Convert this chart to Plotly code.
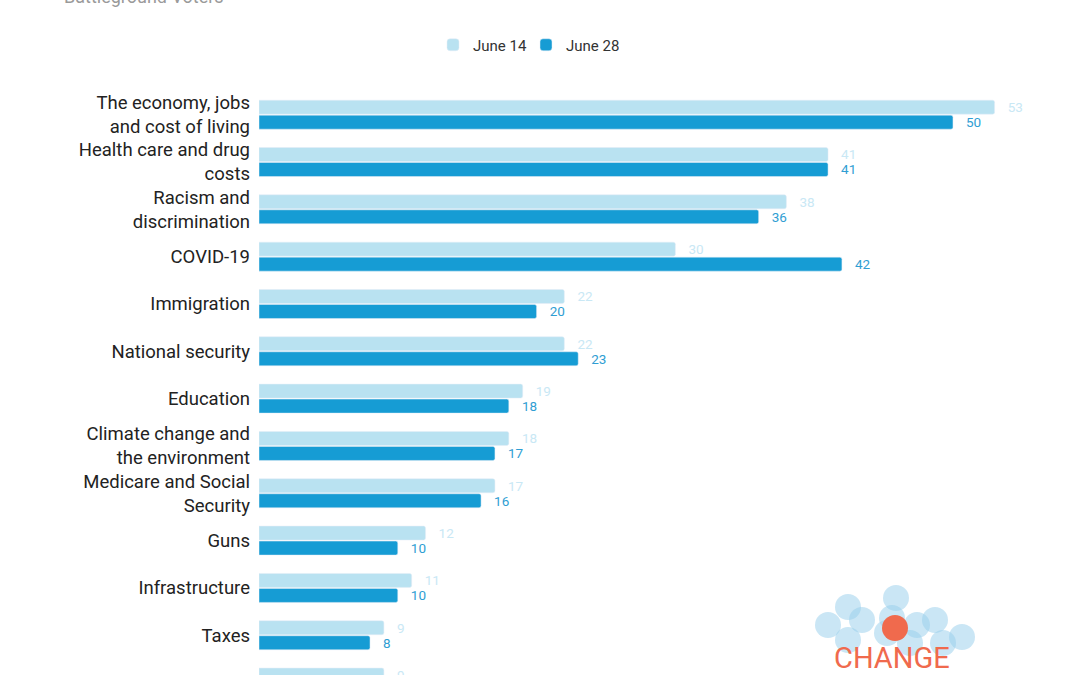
import plotly.graph_objects as go

# data
categories = [
    "The economy, jobs<br>and cost of living",
    "Health care and drug<br>costs",
    "Racism and<br>discrimination",
    "COVID-19",
    "Immigration",
    "National security",
    "Education",
    "Climate change and<br>the environment",
    "Medicare and Social<br>Security",
    "Guns",
    "Infrastructure",
    "Taxes",
    "Foreign policy",
]
june_14 = [53, 41, 38, 30, 22, 22, 19, 18, 17, 12, 11, 9, 9]
june_28 = [50, 41, 36, 42, 20, 23, 18, 17, 16, 10, 10, 8, 8]

LIGHT = "#b9e2f1"
DARK = "#169cd4"
PAD = "\u00a0" * 3

W, H = 1080, 675
L, R, T, B = 259, 16, 91, 0


def px_x(x):
    return (x - L) / (W - L - R)


def px_y(y):
    return 1 - (y - T) / (H - T - B)


fig = go.Figure()
fig.add_trace(go.Bar(
    name="June 14", y=categories, x=june_14, orientation="h",
    marker=dict(color=LIGHT, cornerradius=2),
    text=[PAD + str(v) for v in june_14], textposition="outside",
    constraintext="none",
    textfont=dict(color="#c9e8f5", size=13.5),
))
fig.add_trace(go.Bar(
    name="June 28", y=categories, x=june_28, orientation="h",
    marker=dict(color=DARK, cornerradius=2),
    text=[PAD + str(v) for v in june_28], textposition="outside",
    constraintext="none",
    textfont=dict(color="#2f9ed3", size=13.5),
))

# logo (decorative)
circles = [(828, 625), (848, 607), (862, 620), (896, 598), (892, 618), (917, 625),
           (935, 620), (962, 637), (943, 643), (848, 640), (887, 633), (910, 643)]
shapes = []
for cx, cy in circles:
    shapes.append(dict(type="circle", xref="paper", yref="paper",
                       x0=px_x(cx - 13), x1=px_x(cx + 13),
                       y0=px_y(cy + 13), y1=px_y(cy - 13),
                       fillcolor="rgba(150,206,235,0.5)", line=dict(width=0), layer="above"))
shapes.append(dict(type="circle", xref="paper", yref="paper",
                   x0=px_x(895 - 13), x1=px_x(895 + 13),
                   y0=px_y(628 + 13), y1=px_y(628 - 13),
                   fillcolor="#f06a4d", line=dict(width=0), layer="above"))

fig.update_layout(
    width=W, height=H,
    margin=dict(l=L, r=R, t=T, b=B),
    plot_bgcolor="white", paper_bgcolor="white",
    font=dict(family="Roboto", color="#222222"),
    barmode="group", bargap=0.366, bargroupgap=0.067,
    showlegend=True,
    legend=dict(orientation="h", xref="container", yref="container",
                x=526 / W, xanchor="center", y=1 - 45 / H, yanchor="middle",
                font=dict(size=15, color="#333333"), traceorder="normal",
                entrywidth=48, itemwidth=30),
    xaxis=dict(range=[0, 58], visible=False),
    yaxis=dict(range=[11.84, -0.5], tickfont=dict(size=18.5, color="#222222"),
               ticks="", showgrid=False, showline=False, ticklabelstandoff=8),
    shapes=shapes,
    annotations=[
        dict(text="Battleground Voters", xref="paper", yref="paper",
             x=px_x(62), y=px_y(-3), xanchor="left", yanchor="middle",
             showarrow=False, font=dict(size=18, color="#9a9a9a")),
        dict(text="CHANGE", xref="paper", yref="paper",
             x=px_x(892), y=px_y(658), xanchor="center", yanchor="middle",
             showarrow=False, font=dict(size=29, color="#f06a4d", family="Roboto")),
    ],
)

fig.write_html("out.html", config={"displayModeBar": False},
               post_script="document.body.style.margin='0';")
